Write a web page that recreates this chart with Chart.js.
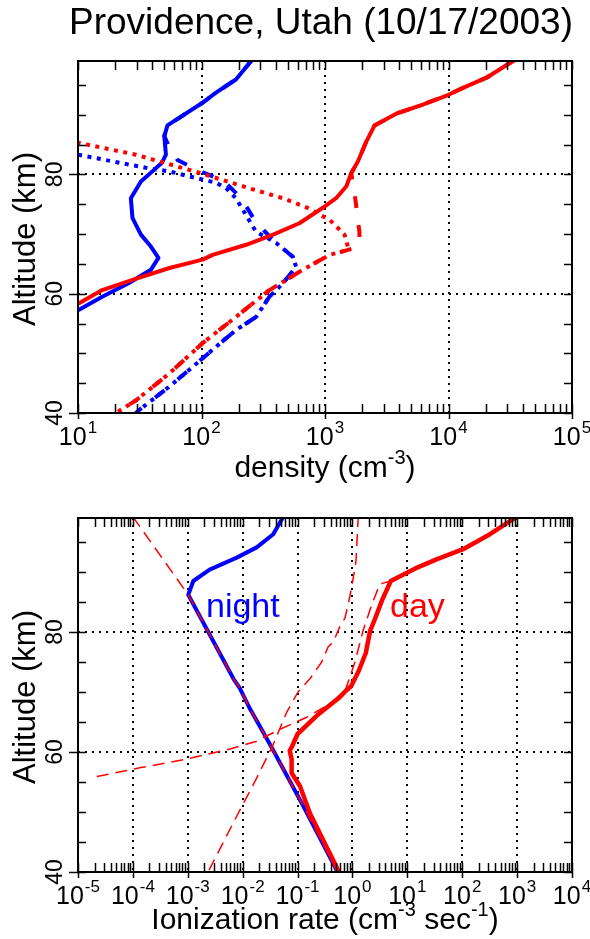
<!DOCTYPE html>
<html><head><meta charset="utf-8">
<script src="https://cdn.jsdelivr.net/npm/chart.js@4.4.1/dist/chart.umd.min.js"></script>
<style>
html,body{margin:0;padding:0;background:#fff;}
#wrap{position:relative;width:590px;height:939px;overflow:hidden;}
canvas{position:absolute;left:0;}
</style></head><body>
<div id="wrap">
<canvas id="c1" width="590" height="490" style="top:0;width:590px;height:490px"></canvas>
<canvas id="c2" width="590" height="449" style="top:490px;width:590px;height:449px"></canvas>
</div>
<script>
// ---------- Top panel: density (cm^-3) vs altitude (km) ----------
const topXExponents = [1, 2, 3, 4, 5];
const bottomXExponents = [-5, -4, -3, -2, -1, 0, 1, 2, 3, 4];
const yTickLabels = [40, 60, 80];

// night electrons (blue solid)
const nightNeAlt = [99.2, 95.9, 93.7, 92.0, 88.2, 86.4, 83.3, 82.0, 80.5, 78.8, 76.0, 72.7, 69.9, 67.9, 66.0, 64.0, 61.8, 59.5, 57.3, 56.5];
const nightNeVal = [257, 190, 131, 102, 53, 50, 51.5, 48, 40, 32.3, 26.8, 27.6, 32.3, 38.9, 44.8, 38.9, 25.9, 15.7, 10.2, 8.5];
// night positive ions (blue dashed)
const nightPosAlt = [99.2, 95.9, 93.7, 92.0, 88.2, 86.4, 84.5, 82.4, 80.8, 78.9, 76.0, 72.0, 69.0, 67.7, 66.2, 64.5, 61.7, 59.5, 56.1, 53.9, 51.1, 47.7, 44.4, 40.5, 39.5];
const nightPosVal = [257, 190, 131, 102, 53, 50, 55, 64, 91, 151, 210, 275, 380, 450, 548, 583, 455, 355, 277, 190, 131, 84.5, 54.7, 31.3, 28];
// night negative ions (blue dotted)
const nightNegAlt = [84.5, 83.3, 81.1, 80.5, 79.4, 78.6, 77.7, 76.0, 73.2, 70.4, 68.5, 66.2, 64.5, 61.7, 59.5, 56.1, 53.9, 51.1, 47.7, 44.4, 40.5, 39.5];
const nightNegVal = [5, 10, 35.4, 54.7, 90, 131, 158, 190, 229, 276, 402, 548, 583, 455, 355, 277, 190, 131, 84.5, 54.7, 31.3, 28];

// day electrons (red solid)
const dayNeAlt = [99.2, 96.2, 94.5, 93.3, 91.7, 90.2, 88.2, 85.5, 82.2, 80.2, 78.0, 76.0, 74.4, 71.8, 69.9, 68.2, 66.5, 65.7, 64.3, 62.3, 60.6, 58.4, 57.5];
const dayNeVal = [34500, 20300, 13100, 9900, 6200, 3800, 2520, 2160, 1850, 1630, 1490, 1230, 960, 620, 380, 230, 123, 102, 55, 27.6, 15.7, 10.2, 8];
// day positive ions (red dashed)
const dayPosAlt = [99.2, 96.2, 94.5, 93.3, 91.7, 90.2, 88.2, 85.5, 82.2, 80.2, 78.0, 75.5, 72.1, 70.4, 68.2, 67.6, 67.1, 66.5, 64.0, 60.6, 56.1, 51.7, 46.6, 42.1, 40.0, 39.0];
const dayPosVal = [34500, 20300, 13100, 9900, 6200, 3800, 2520, 2160, 1850, 1630, 1700, 1770, 1850, 1900, 1900, 1700, 1400, 1090, 661, 355, 190, 102, 54.7, 29.4, 20.2, 17];
// day negative ions (red dotted)
const dayNegAlt = [86.3, 85.3, 83.3, 80.1, 77.5, 76.0, 74.4, 72.3, 69.9, 67.9, 67.1, 66.5, 64.0, 60.6, 56.1, 51.7, 46.6, 42.1, 40.0, 39.0];
const dayNegVal = [5.8, 10, 29.4, 102, 259, 455, 720, 1100, 1440, 1530, 1400, 1090, 661, 355, 190, 102, 54.7, 29.4, 20.2, 17];

// ---------- Bottom panel: ionization rate (cm^-3 s^-1) ----------
// night total (blue solid)
const nightQAlt = [99.2, 96.3, 94.1, 92.4, 90.4, 88.5, 86.2, 72.2, 70.6, 67.2, 60.7, 51.0, 40.3, 39.5];
const nightQVal = [0.055, 0.036, 0.018, 0.0078, 0.0025, 0.00126, 0.00102, 0.0068, 0.0089, 0.0136, 0.034, 0.127, 0.515, 0.56];
// day total (red solid)
const dayQAlt = [99.2, 96.3, 93.8, 92.1, 90.6, 88.5, 85.4, 82.3, 80.2, 76.5, 73.5, 71.0, 70.3, 68.9, 66.3, 63.0, 61.0, 60.2, 58.8, 56.5, 54.3, 49.8, 45.3, 40.8, 39.5];
const dayQVal = [980, 320, 104, 34, 14, 5.0, 3.5, 2.6, 2.1, 1.75, 1.3, 0.95, 0.78, 0.55, 0.24, 0.1, 0.08, 0.072, 0.078, 0.078, 0.111, 0.168, 0.294, 0.515, 0.6];
// component 1 (thin dashed, steep from upper left, then along night curve)
const comp1Alt = [99.2, 86.2, 72.2, 70.6, 67.2, 60.7, 51.0, 40.3, 39.5];
const comp1Val = [0.0001, 0.00102, 0.0068, 0.0089, 0.0136, 0.034, 0.127, 0.515, 0.56];
// component 2 (thin dashed, from left at 56 km up to day curve)
const comp2Alt = [55.9, 57.4, 58.7, 60.5, 61.8, 63.8, 65.8, 68.0, 70.4, 75.0, 80.3, 84.5, 88.0, 88.5, 90.6, 92.1, 93.8, 96.3, 99.2];
const comp2Val = [0.000022, 0.00014, 0.00083, 0.0059, 0.018, 0.048, 0.147, 0.39, 0.75, 1.11, 1.57, 2.24, 3.16, 5.0, 14, 34, 104, 320, 980];
// component 3 (thin dashed, near vertical at top, down-left to 40 km)
const comp3Alt = [99.5, 91.8, 89.0, 86.0, 82.3, 80.9, 78.4, 77.5, 75.0, 72.2, 70.0, 66.7, 61.0, 55.4, 48.7, 40.8, 39.5];
const comp3Val = [1.28, 1.16, 1.035, 0.9, 0.73, 0.59, 0.45, 0.36, 0.275, 0.168, 0.102, 0.064, 0.035, 0.0174, 0.0072, 0.0026, 0.0022];

const BLUE = '#0000ff', RED = '#ff0000';
const FONT = '"Liberation Sans", Arial, Helvetica, sans-serif';

function pts(alt, val) { return alt.map((a, i) => ({ x: val[i], y: a })); }
function ds(label, alt, val, color, width, dash) {
  return {
    label, data: pts(alt, val), borderColor: color, backgroundColor: color,
    borderWidth: width, borderDash: dash || [], pointRadius: 0, pointHoverRadius: 0,
    fill: false, tension: 0, clip: 0,
    borderCapStyle: dash ? 'butt' : 'round', borderJoinStyle: 'round'
  };
}
// Chart.js paints dataset 0 last (on top); list in paint order and reverse.
function paintOrder(list) { return list.slice().reverse(); }

function drawRich(ctx, segs, cx, base, size, color) {
  const sub = Math.round(size * 0.66);
  let total = 0;
  segs.forEach(s => { ctx.font = (s.sup ? sub : size) + 'px ' + FONT; s.w = ctx.measureText(s.t).width; total += s.w; });
  let x = cx - total / 2;
  ctx.fillStyle = color || '#000';
  ctx.textAlign = 'left'; ctx.textBaseline = 'alphabetic';
  segs.forEach(s => {
    ctx.font = (s.sup ? sub : size) + 'px ' + FONT;
    ctx.fillText(s.t, x, s.sup ? base - size * 0.42 : base);
    x += s.w;
  });
}

function makeFrame(cfg) {
  return {
    id: 'frame' + cfg.name,
    beforeDatasetsDraw(chart) {
      const { ctx, chartArea: a } = chart;
      const x = chart.scales.x, y = chart.scales.y;
      ctx.save();
      ctx.strokeStyle = '#000'; ctx.lineWidth = 2; ctx.setLineDash([2, 5]);
      cfg.xExps.forEach(e => {
        const px = Math.round(x.getPixelForValue(Math.pow(10, e)));
        if (px > a.left + 3 && px < a.right - 3) {
          ctx.beginPath(); ctx.moveTo(px, a.top); ctx.lineTo(px, a.bottom); ctx.stroke();
        }
      });
      [60, 80].forEach(v => {
        const py = Math.round(y.getPixelForValue(v));
        ctx.beginPath(); ctx.moveTo(a.left, py); ctx.lineTo(a.right, py); ctx.stroke();
      });
      ctx.restore();
    },
    afterDatasetsDraw(chart) {
      const { ctx, chartArea: a } = chart;
      const x = chart.scales.x, y = chart.scales.y;
      ctx.save();
      ctx.setLineDash([]);
      ctx.strokeStyle = '#000';
      // ticks
      ctx.lineWidth = 1.5;
      const e0 = cfg.xExps[0], e1 = cfg.xExps[cfg.xExps.length - 1];
      for (let e = e0; e <= e1; e++) {
        for (let k = 1; k <= 9; k++) {
          const v = k * Math.pow(10, e);
          if (v > Math.pow(10, e1) * 1.0001) break;
          const px = Math.round(x.getPixelForValue(v)) + 0.5;
          ctx.beginPath();
          ctx.moveTo(px, a.bottom + (k === 1 ? 6 : 0)); ctx.lineTo(px, a.bottom - cfg.tickLen);
          ctx.moveTo(px, a.top); ctx.lineTo(px, a.top + cfg.tickLen);
          ctx.stroke();
        }
      }
      for (let v = 40; v <= 95; v += 5) {
        const py = Math.round(y.getPixelForValue(v)) + 0.5;
        ctx.beginPath();
        ctx.moveTo(a.left - (v % 20 === 0 ? 9 : 0), py); ctx.lineTo(a.left + 8, py);
        ctx.moveTo(a.right, py); ctx.lineTo(a.right - 8, py);
        ctx.stroke();
      }
      // frame
      ctx.lineWidth = 2;
      ctx.strokeRect(a.left, a.top, a.right - a.left, a.bottom - a.top);
      // x tick labels
      ctx.fillStyle = '#000';
      cfg.xExps.forEach(e => {
        const px = x.getPixelForValue(Math.pow(10, e));
        ctx.font = '25px ' + FONT;
        const w1 = ctx.measureText('10').width;
        ctx.font = '17px ' + FONT;
        const es = String(e);
        const w2 = ctx.measureText(es).width;
        const start = px - (w1 + w2 + 1) / 2;
        ctx.textAlign = 'left'; ctx.textBaseline = 'alphabetic';
        ctx.font = '25px ' + FONT;
        ctx.fillText('10', start, a.bottom + 32);
        ctx.font = '17px ' + FONT;
        ctx.fillText(es, start + w1 + 1, a.bottom + 20);
      });
      // y tick labels (rotated)
      yTickLabels.forEach(v => {
        const py = y.getPixelForValue(v);
        ctx.save();
        ctx.translate(62, py); ctx.rotate(-Math.PI / 2);
        ctx.font = '23px ' + FONT; ctx.textAlign = 'center'; ctx.textBaseline = 'alphabetic';
        ctx.fillText(String(v), 0, 0);
        ctx.restore();
      });
      // y title
      ctx.save();
      ctx.translate(35, (a.top + a.bottom) / 2 + 2); ctx.rotate(-Math.PI / 2);
      ctx.font = '31px ' + FONT; ctx.textAlign = 'center'; ctx.textBaseline = 'alphabetic';
      ctx.fillText('Altitude (km)', 0, 0);
      ctx.restore();
      // x title
      drawRich(ctx, cfg.xTitle, (a.left + a.right) / 2, cfg.xTitleBase, 30, '#000');
      // extra texts
      (cfg.texts || []).forEach(t => {
        ctx.font = t.size + 'px ' + FONT; ctx.fillStyle = t.color;
        ctx.textAlign = t.align || 'left'; ctx.textBaseline = 'alphabetic';
        ctx.fillText(t.text, t.x, t.y);
      });
      ctx.restore();
    }
  };
}

function baseOptions(xmin, xmax, pad) {
  return {
    responsive: false, animation: false, devicePixelRatio: 1,
    layout: { padding: pad },
    events: [],
    scales: {
      x: { type: 'logarithmic', min: xmin, max: xmax, display: false },
      y: { type: 'linear', min: 40, max: 99, display: false }
    },
    plugins: { legend: { display: false }, tooltip: { enabled: false }, title: { display: false } }
  };
}

const DOT = [4, 5.5], DASH = [12, 17], THIN = [12, 7];

new Chart(document.getElementById('c1'), {
  type: 'line',
  data: {
    datasets: paintOrder([
      ds('night e-', nightNeAlt, nightNeVal, BLUE, 4),
      ds('night +ions', nightPosAlt, nightPosVal, BLUE, 4, DASH),
      ds('night -ions', nightNegAlt, nightNegVal, BLUE, 4, DOT),
      ds('day e-', dayNeAlt, dayNeVal, RED, 4),
      ds('day +ions', dayPosAlt, dayPosVal, RED, 4, DASH),
      ds('day -ions', dayNegAlt, dayNegVal, RED, 4, DOT)
    ])
  },
  options: baseOptions(10, 1e5, { left: 78, right: 18, top: 61, bottom: 77 }),
  plugins: [makeFrame({
    name: 'top', xExps: topXExponents, tickLen: 9, xTitleBase: 477,
    xTitle: [{ t: 'density (cm' }, { t: '-3', sup: true }, { t: ')' }],
    texts: [{ text: 'Providence, Utah (10/17/2003)', x: 321, y: 34, size: 37, color: '#000', align: 'center' }]
  })]
});

new Chart(document.getElementById('c2'), {
  type: 'line',
  data: {
    datasets: paintOrder([
      ds('night', nightQAlt, nightQVal, BLUE, 4),
      ds('day', dayQAlt, dayQVal, RED, 4.5),
      ds('component 1', comp1Alt, comp1Val, RED, 1.5, THIN),
      ds('component 2', comp2Alt, comp2Val, RED, 1.5, THIN),
      ds('component 3', comp3Alt, comp3Val, RED, 1.5, THIN)
    ])
  },
  options: baseOptions(1e-5, 1e4, { left: 78, right: 18, top: 28, bottom: 67 }),
  plugins: [makeFrame({
    name: 'bot', xExps: bottomXExponents, tickLen: 9, xTitleBase: 439,
    xTitle: [{ t: 'Ionization rate (cm' }, { t: '-3', sup: true }, { t: ' sec' }, { t: '-1', sup: true }, { t: ')' }],
    texts: [
      { text: 'night', x: 206, y: 127, size: 34, color: BLUE },
      { text: 'day', x: 390, y: 127, size: 34, color: RED }
    ]
  })]
});
</script>
</body></html>
